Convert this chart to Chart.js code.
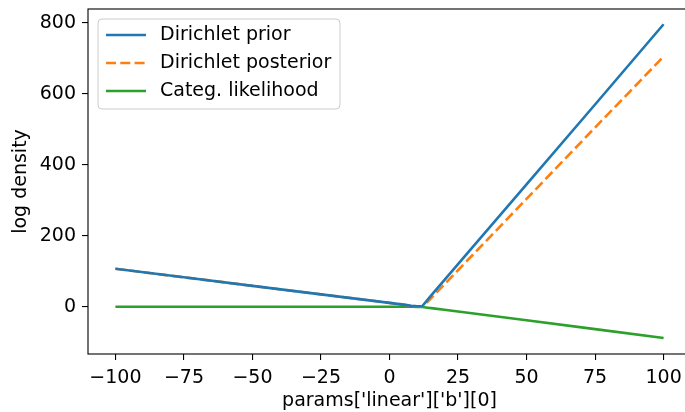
<!DOCTYPE html>
<html>
<head>
<meta charset="utf-8">
<script src="https://cdn.jsdelivr.net/npm/chart.js@4"></script>
<style>
  html, body { margin: 0; padding: 0; background: #fff; overflow: hidden; }
  #wrap { width: 685px; height: 412px; overflow: hidden; }
</style>
</head>
<body>
<div id="wrap"><canvas id="myChart" width="692" height="412"></canvas></div>
<script>
// values
const xs         = [-100, -75, -50, -25, 0, 5, 8, 10, 12, 14, 16, 20, 25, 50, 75, 100]
const prior      = [107, 83, 59, 35, 11, 6, 3, 1.5, 2, 21, 39, 75, 120, 345, 570, 796]
const posterior  = [107, 83, 59, 35, 11, 6, 3, 1.5, 1.5, 15, 31, 63, 103, 304, 505, 705]
const likelihood = [0, 0, 0, 0, 0, 0, 0, -0.2, -0.7, -2.5, -4.5, -8.5, -13.5, -38, -63, -88]
const xTicks = [-100, -75, -50, -25, 0, 25, 50, 75, 100]
const yTicks = [0, 200, 400, 600, 800]

const FONT = "'DejaVu Sans', sans-serif"
const minus = v => String(v).replace('-', '\u2212')
const pts = ys => xs.map((x, i) => ({x: x, y: ys[i]}))

const boxPlugin = {
    id: 'box',
    afterDraw(chart) {
        const ctx = chart.ctx
        const a = chart.chartArea
        ctx.save()
        ctx.strokeStyle = '#000'
        ctx.lineWidth = 1.1
        ctx.strokeRect(a.left, a.top, a.right - a.left, a.bottom - a.top)

        // legend in the upper left corner
        const x0 = 98, y0 = 19, w = 242, h = 90
        ctx.beginPath()
        ctx.roundRect(x0, y0, w, h, 4)
        ctx.fillStyle = 'rgba(255,255,255,0.8)'
        ctx.fill()
        ctx.strokeStyle = '#cccccc'
        ctx.lineWidth = 1
        ctx.stroke()
        ctx.font = '19px ' + FONT
        ctx.textBaseline = 'middle'
        chart.data.datasets.forEach((ds, i) => {
            const yy = 35 + i * 28
            ctx.beginPath()
            ctx.setLineDash(ds.borderDash || [])
            ctx.strokeStyle = ds.borderColor
            ctx.lineWidth = ds.borderWidth
            ctx.moveTo(106, yy)
            ctx.lineTo(146, yy)
            ctx.stroke()
            ctx.setLineDash([])
            ctx.fillStyle = '#000'
            ctx.fillText(ds.label, 160, yy)
        })
        ctx.restore()
    }
}

const config = {
    type: 'line',
    data: {
        datasets: [
            { label: 'Dirichlet prior', data: pts(prior), borderColor: '#1f77b4', borderWidth: 2.6 },
            { label: 'Dirichlet posterior', data: pts(posterior), borderColor: '#ff7f0e', borderWidth: 2.6, borderDash: [10, 4.3] },
            { label: 'Categ. likelihood', data: pts(likelihood), borderColor: '#2ca02c', borderWidth: 2.6 }
        ]
    },
    options: {
        responsive: false,
        animation: false,
        elements: { point: { radius: 0 }, line: { tension: 0 } },
        layout: { padding: { left: 10, top: 9, right: 1, bottom: 0 } },
        plugins: { legend: { display: false }, tooltip: { enabled: false } },
        scales: {
            x: {
                type: 'linear',
                min: -110,
                max: 110,
                afterBuildTicks: s => { s.ticks = xTicks.map(v => ({value: v})) },
                afterFit: s => { s.height = 58; s.paddingLeft = 0; s.paddingRight = 0 },
                ticks: {
                    color: '#000',
                    font: { family: FONT, size: 19 },
                    padding: 7,
                    maxRotation: 0,
                    autoSkip: false,
                    callback: v => minus(v)
                },
                grid: { drawOnChartArea: false, drawTicks: true, tickLength: 6, color: '#000', lineWidth: 1.1 },
                border: { display: false },
                title: { display: true, text: "params['linear']['b'][0]", color: '#000', font: { family: FONT, size: 19 }, padding: { top: 0, bottom: 0 } }
            },
            y: {
                min: -133,
                max: 839,
                afterBuildTicks: s => { s.ticks = yTicks.map(v => ({value: v})) },
                afterFit: s => { s.width = 78; s.paddingTop = 0; s.paddingBottom = 0 },
                ticks: {
                    color: '#000',
                    font: { family: FONT, size: 19 },
                    padding: 6,
                    autoSkip: false,
                    callback: v => minus(v)
                },
                grid: { drawOnChartArea: false, drawTicks: true, tickLength: 6, color: '#000', lineWidth: 1.1 },
                border: { display: false },
                title: { display: true, text: 'log density', color: '#000', font: { family: FONT, size: 19 }, padding: { top: 0, bottom: 4 } }
            }
        }
    },
    plugins: [boxPlugin]
}

const myChart = new Chart(document.getElementById('myChart'), config)
</script>
</body>
</html>
